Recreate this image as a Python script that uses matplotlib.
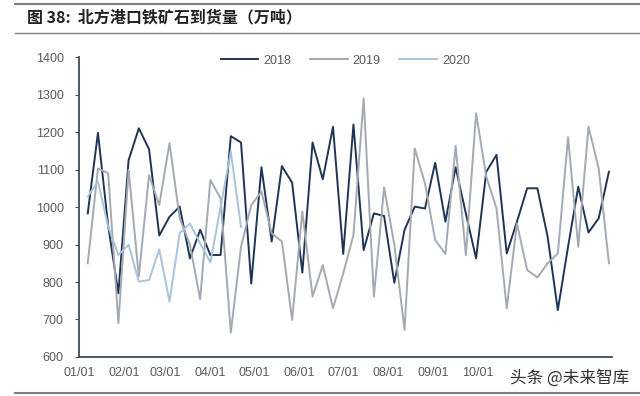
import pandas as pd
import matplotlib
matplotlib.use("Agg")
import matplotlib.pyplot as plt
import matplotlib.dates as mdates
from matplotlib.lines import Line2D

plt.rcParams['font.family'] = ['Liberation Sans', 'Noto Sans CJK SC', 'DejaVu Sans']

# ========= datos (arribos semanales, 万吨) =========
semanas = pd.date_range('2018-01-07', periods=52, freq='7D')
meses = pd.date_range('2018-01-01', '2018-12-01', freq='MS')

v2018 = [983, 1198, 950, 770, 1125, 1210, 1154, 924, 974, 1001,
         863, 939, 872, 872, 1189, 1172, 796, 1106, 908, 1109,
         1065, 825, 1172, 1074, 1214, 875, 1220, 885, 983, 976,
         798, 939, 1001, 996, 1118, 961, 1106, 983, 863, 1094,
         1139, 876, 961, 1050, 1050, 921, 725, 894, 1054, 932,
         970, 1094]

v2019 = [850, 1103, 1090, 690, 1099, 815, 1085, 1005, 1170, 970,
         900, 754, 1072, 1023, 665, 894, 1005, 1041, 930, 908,
         699, 988, 761, 845, 730, 823, 925, 1290, 761, 1052,
         900, 672, 1156, 1063, 912, 875, 1163, 872, 1250, 1081,
         996, 730, 956, 832, 812, 850, 876, 1186, 894, 1214,
         1103, 850]

v2020 = [1028, 1068, 948, 872, 899, 801, 805, 887, 748, 930,
         956, 903, 852, 1000, 1148, 947]

series = [('2018', v2018, '#1F3556'), ('2019', v2019, '#A3AAB2'), ('2020', v2020, '#A8C3DC')]

titulo = '图 38:  北方港口铁矿石到货量（万吨）'
marca = '头条 @未来智库'

# ========= figura =========
fig = plt.figure(figsize=(6.4, 3.96), dpi=100)
ax = fig.add_axes([0.1234, 0.0985, 0.8326, 0.7575])

for nombre, vals, color in series:
    ax.plot(semanas[:len(vals)], vals, color=color, linewidth=1.4, label=nombre)

ax.set_ylim(600, 1400)
ax.set_yticks(range(600, 1401, 100))
ax.set_xlim(pd.Timestamp('2018-01-01'), pd.Timestamp('2019-01-01'))
ax.set_xticks(meses)
ax.xaxis.set_major_formatter(mdates.DateFormatter('%m/%d'))

for lado in ['top', 'right']:
    ax.spines[lado].set_visible(False)
for lado in ['left', 'bottom']:
    ax.spines[lado].set_color('#3E4B5A')
    ax.spines[lado].set_linewidth(1.3)

ax.tick_params(axis='y', colors='#3E4B5A', labelcolor='#595959', labelsize=9, length=3, pad=8)
ax.tick_params(axis='x', length=0, labelcolor='#595959', labelsize=9, pad=7)

# las etiquetas 11/01 y 12/01 quedan tapadas por la marca de agua en el original
fig.canvas.draw()
for etiqueta in ax.get_xticklabels()[10:]:
    etiqueta.set_visible(False)

ax.legend(loc='upper center', bbox_to_anchor=(0.5, 1.045), ncol=3, frameon=False,
          fontsize=9, handlelength=3.0, handletextpad=0.4, columnspacing=1.5,
          labelcolor='#595959')

# título y líneas del marco
fig.text(0.042, 0.957, titulo, fontsize=11.5, fontweight='bold', color='#222222',
         family=['Noto Sans CJK SC', 'DejaVu Sans'], va='center', ha='left')
fig.add_artist(Line2D([0.023, 1.0], [0.99, 0.99], color='#7F7F7F', linewidth=1.5))
fig.add_artist(Line2D([0.023, 1.0], [0.917, 0.917], color='#7F7F7F', linewidth=1.0))
fig.add_artist(Line2D([0.023, 1.0], [0.008, 0.008], color='#7F7F7F', linewidth=1.5))

# marca de agua
fig.text(0.797, 0.045, marca, fontsize=12, color='#333333', ha='left', va='center',
         family=['Noto Sans CJK SC', 'DejaVu Sans'], zorder=10)

fig.savefig('out.png', dpi=100)
